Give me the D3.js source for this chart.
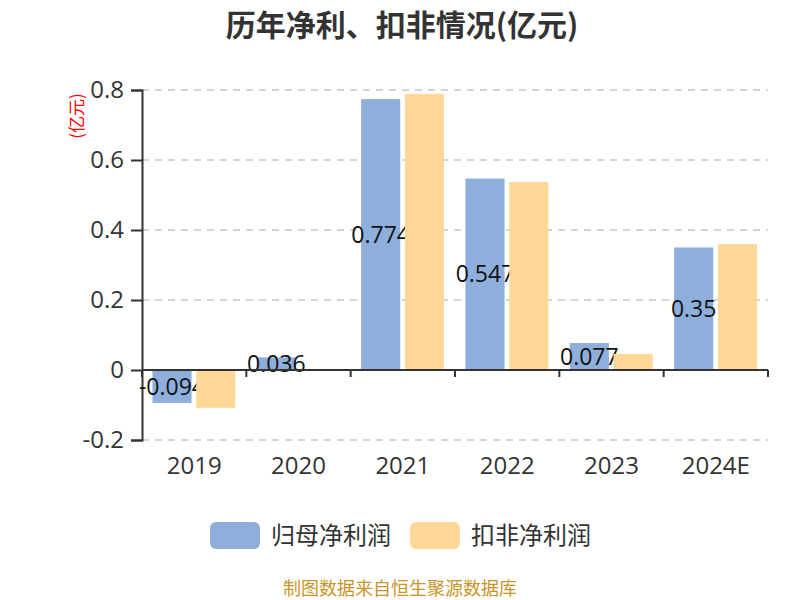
<!DOCTYPE html>
<html><head><meta charset="utf-8">
<script src="https://cdn.jsdelivr.net/npm/d3@7"></script>
<style>body{margin:0;background:#fff;}</style>
</head><body><svg id="c" width="800" height="600"></svg>
<script>
const categories = ["2019","2020","2021","2022","2023","2024E"];
const seriesNames = ["归母净利润","扣非净利润"];
const netProfit = [-0.094, 0.036, 0.774, 0.547, 0.077, 0.35];
const deductedProfit = [-0.108, 0.003, 0.789, 0.537, 0.046, 0.36];
const yTicks = [-0.2, 0, 0.2, 0.4, 0.6, 0.8];
const colors = ["#8eaedb","#ffd897"];

const svg = d3.select("#c");
const font = '"Open Sans","Noto Sans CJK SC",sans-serif';
const cjk = '"Noto Sans CJK SC",sans-serif';
const L = 142, R = 768, T = 90, B = 440;
const x = d3.scaleBand().domain(categories).range([L, R]);
const y = d3.scaleLinear().domain([-0.2, 0.8]).range([B, T]);

// title
svg.append("text").attr("x", 402).attr("y", 36).attr("text-anchor","middle")
  .attr("font-size", 30).attr("font-weight","bold").attr("fill","#333").attr("font-family",cjk)
  .text("历年净利、扣非情况(亿元)");

// grid
svg.append("g").selectAll("line").data(yTicks.filter(d=>d!==0)).join("line")
  .attr("x1", L).attr("x2", R).attr("y1", d=>y(d)).attr("y2", d=>y(d))
  .attr("stroke","#c8c8c8").attr("stroke-width",1.5).attr("stroke-dasharray","7,6");

// y axis
const yAxis = svg.append("g").attr("transform",`translate(${L},0)`)
  .call(d3.axisLeft(y).tickValues(yTicks).tickSize(11).tickPadding(7).tickFormat(d=>d===0?"0":d3.format(".1f")(d).replace("−","-")));
yAxis.select(".domain").attr("stroke","#333").attr("stroke-width",2);
yAxis.selectAll(".tick line").attr("stroke","#333").attr("stroke-width",2);
yAxis.selectAll("text").attr("font-size",24).attr("fill","#333").attr("font-family",font);

svg.append("text").attr("transform",`translate(83,116) rotate(-90)`).attr("text-anchor","middle")
  .attr("font-size",17).attr("fill","red").attr("font-family",cjk).text("(亿元)");

const bw = x.bandwidth()*0.375, gap = x.bandwidth()*0.045, pad = x.bandwidth()*0.1;

function bars(data, idx){
  svg.append("g").selectAll("rect").data(data).join("rect")
    .attr("x",(d,i)=>x(categories[i]) + pad + idx*(bw+gap))
    .attr("width",bw)
    .attr("y",d=>y(Math.max(0,d)))
    .attr("height",d=>Math.abs(y(d)-y(0)))
    .attr("fill",colors[idx]);
}
bars(netProfit,0);
// labels for blue series
svg.append("g").selectAll("text").data(netProfit).join("text")
  .attr("x",(d,i)=>x(categories[i]) + pad + bw/2)
  .attr("y",d=>(y(d)+y(0))/2)
  .attr("dy","0.35em").attr("text-anchor","middle")
  .attr("font-size",23).attr("fill","#111").attr("font-family",font)
  .text(d=>String(d));
bars(deductedProfit,1);

// x axis
const xAxis = svg.append("g").attr("transform",`translate(0,${y(0)})`);
xAxis.append("line").attr("x1",L).attr("x2",R).attr("y1",0).attr("y2",0).attr("stroke","#333").attr("stroke-width",2);
const edges = categories.map(c=>x(c)).concat([R]);
xAxis.selectAll("line.edge").data(edges).join("line").attr("class","edge")
  .attr("x1",d=>d).attr("x2",d=>d).attr("y1",0).attr("y2",7).attr("stroke","#333").attr("stroke-width",2);
svg.append("g").selectAll("text").data(categories).join("text")
  .attr("x",d=>x(d)+x.bandwidth()/2).attr("y",474).attr("text-anchor","middle")
  .attr("font-size",24).attr("fill","#333").attr("font-family",font).text(d=>d);

// legend
const lg = svg.append("g");
seriesNames.forEach((n,i)=>{
  const lx = 210 + i*200;
  lg.append("rect").attr("x",lx).attr("y",522).attr("width",50).attr("height",27).attr("rx",6).attr("fill",colors[i]);
  lg.append("text").attr("x",lx+61).attr("y",544).attr("font-size",24).attr("fill","#333").attr("font-family",cjk).text(n);
});

svg.append("text").attr("x",400).attr("y",595).attr("text-anchor","middle")
  .attr("font-size",18).attr("fill","#c8952a").attr("font-family",cjk).text("制图数据来自恒生聚源数据库");
</script></body></html>
